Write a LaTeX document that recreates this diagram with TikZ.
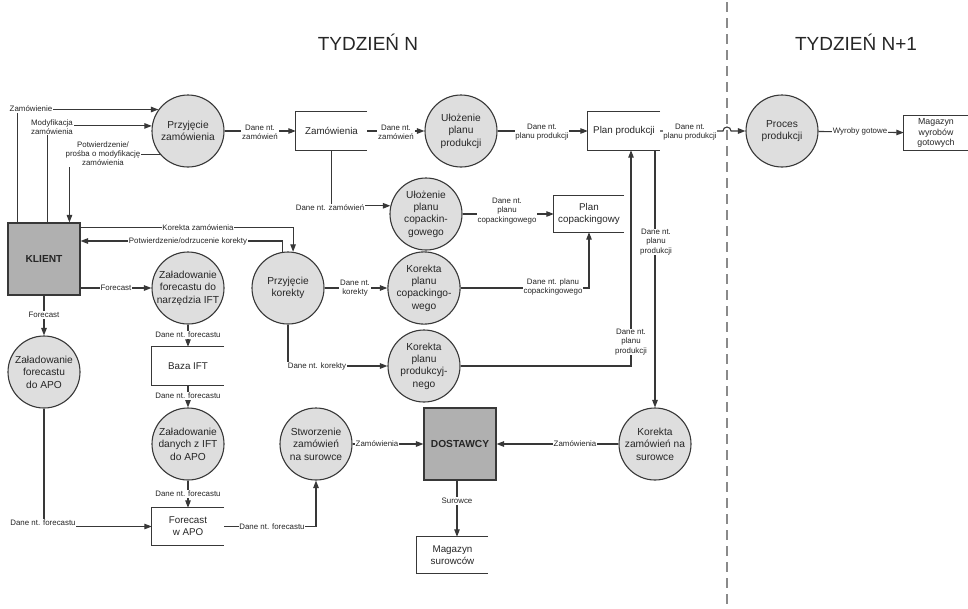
\documentclass[tikz,border=0pt]{standalone}
\usepackage{fontspec}
\setmainfont{Liberation Sans}
\usetikzlibrary{arrows.meta,calc}
\definecolor{linec}{HTML}{383838}
\definecolor{circfill}{HTML}{DEDEDE}
\definecolor{entfill}{HTML}{B0B0B0}
\definecolor{textc}{HTML}{262626}
\definecolor{dashc}{HTML}{8A8A8A}
\begin{document}
\begin{tikzpicture}[x=1pt,y=-1pt,
  every node/.style={text=textc},
  proc/.style={circle, draw=linec, line width=1.1pt, fill=circfill, minimum size=72pt, inner sep=0pt, align=center, font=\fontsize{10.2}{12.4}\selectfont},
  ent/.style={rectangle, draw=linec, line width=1.1pt, fill=entfill, minimum width=72pt, minimum height=72pt, align=center, font=\fontsize{10.2}{12}\selectfont\bfseries},
  store/.style={rectangle, inner sep=0pt, align=center, font=\fontsize{9.8}{12}\selectfont},
  storeline/.style={draw=linec, line width=1.1pt},
  arr/.style={draw=linec, line width=1.1pt, -{Triangle[length=7.5pt,width=5.5pt]}},
  lab/.style={fill=white, inner sep=0.8pt, align=center, font=\fontsize{7.9}{9.1}\selectfont},
  title/.style={font=\fontsize{19}{22}\selectfont}
]
\useasboundingbox (0,0) rectangle (968,608);

% titles and week separator
\node[title] (t1) at (368,42) {TYDZIEŃ N};
\node[title] (t2) at (856,42) {TYDZIEŃ N+1};
\coordinate (sepTop) at (727,2);
\coordinate (sepBot) at (727,608);
\draw[dashc, line width=1.2pt, dash pattern=on 10pt off 6pt] (sepTop) -- (sepBot);

% processes
\node[proc] (pz) at (188,131) {Przyjęcie\\zamówienia};
\node[proc] (upp) at (461,131) {Ułożenie\\planu\\produkcji};
\node[proc] (proces) at (782,131) {Proces\\produkcji};
\node[proc] (upc) at (426,214) {Ułożenie\\planu\\copackin-\\gowego};
\node[proc] (zift) at (188,288) {Załadowanie\\forecastu do\\narzędzia IFT};
\node[proc] (pk) at (288,288) {Przyjęcie\\korekty};
\node[proc] (kpc) at (424,288) {Korekta\\planu\\copackingo-\\wego};
\node[proc] (zapo) at (44,372) {Załadowanie\\forecastu\\do APO};
\node[proc] (kpp) at (424,366) {Korekta\\planu\\produkcyj-\\nego};
\node[proc] (zdapo) at (188,444) {Załadowanie\\danych z IFT\\do APO};
\node[proc] (szs) at (316,444) {Stworzenie\\zamówień\\na surowce};
\node[proc] (kzs) at (655,444) {Korekta\\zamówień na\\surowce};

% external entities
\node[ent] (klient) at (44,259) {KLIENT};
\node[ent] (dost) at (460,444) {DOSTAWCY};

% data stores (open on the right)
\node[store, minimum width=71pt, minimum height=38pt] (zam) at (331.5,131) {Zamówienia};
\node[store, minimum width=72pt, minimum height=38pt] (planprod) at (624,131) {Plan produkcji};
\node[store, minimum width=64pt, minimum height=35pt, font=\fontsize{8.8}{10.8}\selectfont] (magwyr) at (936,133) {Magazyn\\wyrobów\\gotowych};
\node[store, minimum width=70pt, minimum height=36pt] (plancop) at (589,214) {Plan\\copackingowy};
\node[store, minimum width=72pt, minimum height=38pt] (baza) at (188,366) {Baza IFT};
\node[store, minimum width=72pt, minimum height=37pt] (fapo) at (188,526.5) {Forecast\\w APO};
\node[store, minimum width=71pt, minimum height=36pt] (magsur) at (452.5,555) {Magazyn\\surowców};
\foreach \s in {zam,planprod,magwyr,plancop,baza,fapo,magsur}
  \draw[storeline] (\s.north east) -- (\s.north west) -- (\s.south west) -- (\s.south east);

% connectors: client <-> order intake
\draw[arr] ([xshift=10pt]klient.north west) |- (pz.144);
\draw[arr] ([xshift=40pt]klient.north west) |- (pz.172);
\draw[arr] (pz.220) -| ([xshift=62pt]klient.north west);
\draw[arr] (pz) -- (zam);
\draw[arr] (zam) -- (upp);
\draw[arr] (upp) -- (planprod);
\coordinate (hopA) at (723,131);
\draw[arr] (planprod.east) -- (hopA) arc[start angle=180,end angle=360,radius=4] -- (proces.west);
\draw[arr] (proces) -- (magwyr);
\draw[arr] (zam.south) |- (upc.167);
\draw[arr] (upc) -- (plancop);

% corrections
\draw[arr] ([yshift=-5pt]klient.north east) -| (pk.82);
\draw[arr] (pk.98) |- ([yshift=18pt]klient.east);
\draw[arr] (pk) -- (kpc);
\draw[arr] (pk.south) |- (kpp.west);
\draw[arr] (kpc.east) -| (plancop.south);
\draw[arr] (kpp.east) -| ([xshift=7pt]planprod.south);
\draw[arr] (planprod.south -| kzs.north) -- (kzs.north);

% forecast
\draw[arr] ([yshift=-29pt]klient.east) -- (zift.west);
\draw[arr] (klient.south) -- (zapo.north);
\draw[arr] (zift) -- (baza);
\draw[arr] (baza) -- (zdapo);
\draw[arr] (zdapo) -- (fapo);
\draw[arr] (zapo.south) |- (fapo.west);
\draw[arr] (fapo.east) -| (szs.south);

% suppliers
\draw[arr] (szs) -- (dost);
\draw[arr] (kzs) -- (dost);
\draw[arr] ([xshift=-3pt]dost.south) -- ([xshift=-3pt]dost.south |- magsur.north);

% labels
\node[lab] (l1) at (31,109) {Zamówienie};
\node[lab] (l2) at (52,127) {Modyfikacja\\zamówienia};
\node[lab] (l3) at (103,154) {Potwierdzenie/\\prośba o modyfikację\\zamówienia};
\node[lab] (l4) at (260,132) {Dane nt.\\zamówień};
\node[lab] (l5) at (396,132) {Dane nt.\\zamówień};
\node[lab] (l6) at (542,132) {Dane nt.\\planu produkcji};
\node[lab] (l7) at (690,132) {Dane nt.\\planu produkcji};
\node[lab] (l8) at (860,131) {Wyroby gotowe};
\node[lab] (l9) at (330,208) {Dane nt. zamówień};
\node[lab] (l10) at (507,211) {Dane nt.\\planu\\copackingowego};
\node[lab] (l11) at (198,228) {Korekta zamówienia};
\node[lab] (l12) at (188,241) {Potwierdzenie/odrzucenie korekty};
\node[lab] (l13) at (116,288) {Forecast};
\node[lab] (l14) at (44,315) {Forecast};
\node[lab] (l15) at (355,288) {Dane nt.\\korekty};
\node[lab] (l16) at (553,287) {Dane nt. planu\\copackingowego};
\node[lab] (l17) at (317,366) {Dane nt. korekty};
\node[lab] (l18) at (656,242) {Dane nt.\\planu\\produkcji};
\node[lab] (l19) at (631,342) {Dane nt.\\planu\\produkcji};
\node[lab] (l20) at (188,335) {Dane nt. forecastu};
\node[lab] (l21) at (188,396) {Dane nt. forecastu};
\node[lab] (l22) at (188,494) {Dane nt. forecastu};
\node[lab] (l23) at (43,523) {Dane nt. forecastu};
\node[lab] (l24) at (272,527) {Dane nt. forecastu};
\node[lab] (l25) at (377,444) {Zamówienia};
\node[lab] (l26) at (575,444) {Zamówienia};
\node[lab] (l27) at (457,501) {Surowce};
\end{tikzpicture}
\end{document}
